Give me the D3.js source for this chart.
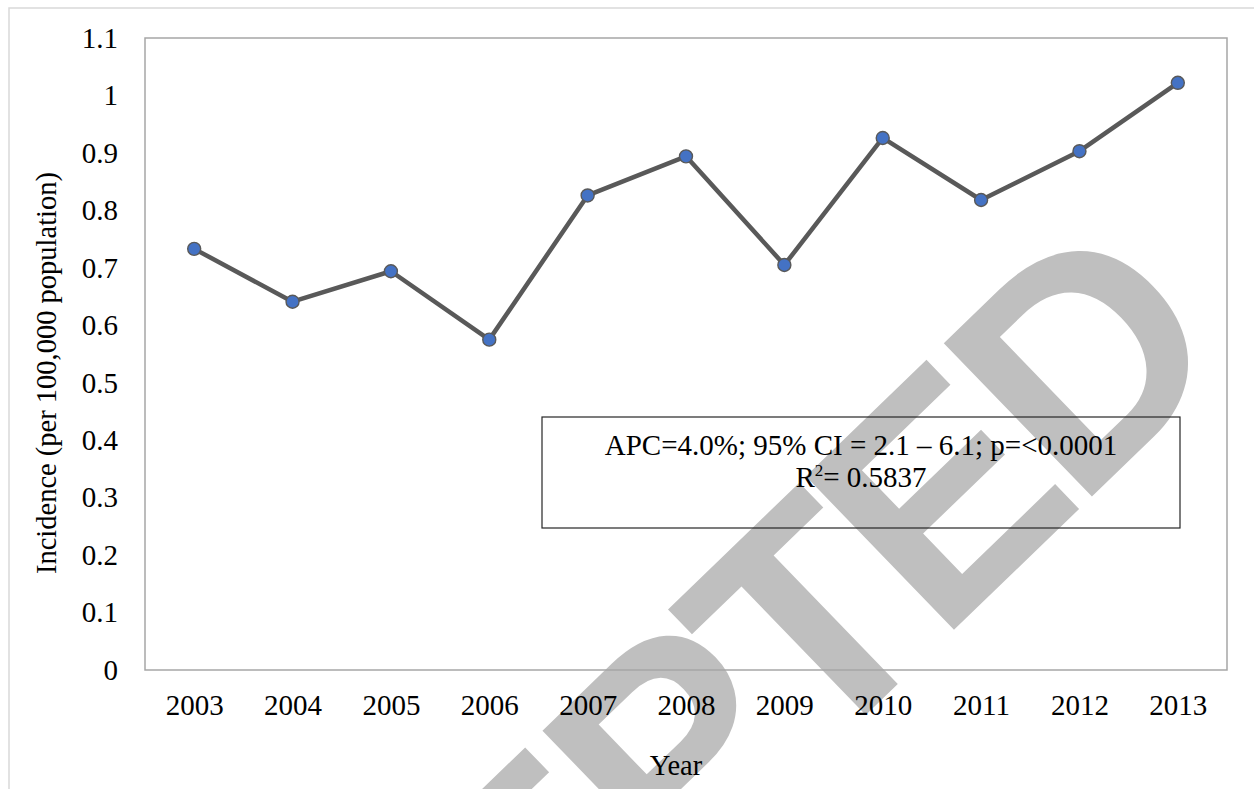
<!DOCTYPE html>
<html>
<head>
<meta charset="utf-8">
<script src="https://cdn.jsdelivr.net/npm/d3@7"></script>
<style>
  body { margin: 0; background: #fff; }
  svg { display: block; }
  text { font-family: "Liberation Serif", "Times New Roman", serif; }
</style>
</head>
<body>
<svg id="chart"></svg>
<script>
// Data
const years = ['2003', '2004', '2005', '2006', '2007', '2008', '2009', '2010', '2011', '2012', '2013'];
const incidence = [0.733, 0.641, 0.694, 0.575, 0.826, 0.894, 0.705, 0.926, 0.818, 0.903, 1.022];
const yTicks = [0, 0.1, 0.2, 0.3, 0.4, 0.5, 0.6, 0.7, 0.8, 0.9, 1, 1.1];
const statsLine1 = 'APC=4.0%; 95% CI = 2.1 \u2013 6.1; p=<0.0001';
const rSquared = '0.5837';

const width = 1254;
const height = 789;
const plot = { left: 145, top: 38, right: 1227, bottom: 670 };

const svg = d3.select('#chart')
  .attr('width', width)
  .attr('height', height);

// Watermark, drawn first so the chart sits over it
svg.append('text')
  .attr('transform', 'translate(87,1467) rotate(-44)')
  .style('font-family', '"Liberation Sans", Arial, sans-serif')
  .style('font-weight', 'bold')
  .style('font-size', '310px')
  .style('letter-spacing', '-15px')
  .attr('fill', '#bfbfbf')
  .text('ACCEPTED');

// Outer chart frame (only top and left edges are inside the picture)
svg.append('rect')
  .attr('x', 9)
  .attr('y', 8)
  .attr('width', 1400)
  .attr('height', 1000)
  .attr('fill', 'none')
  .attr('stroke', '#d9d9d9')
  .attr('stroke-width', 1.5);

const xScale = d3.scalePoint()
  .domain(years)
  .range([plot.left, plot.right])
  .padding(0.5);

const yScale = d3.scaleLinear()
  .domain([0, 1.1])
  .range([plot.bottom, plot.top]);

// Plot area border
svg.append('rect')
  .attr('x', plot.left)
  .attr('y', plot.top)
  .attr('width', plot.right - plot.left)
  .attr('height', plot.bottom - plot.top)
  .attr('fill', 'none')
  .attr('stroke', '#a6a6a6')
  .attr('stroke-width', 1.5);

// Axes
const xAxis = d3.axisBottom(xScale).tickSize(0).tickPadding(24);
svg.append('g')
  .attr('transform', `translate(0, ${plot.bottom})`)
  .call(xAxis)
  .call(g => g.select('.domain').remove())
  .selectAll('text')
  .style('font-family', '"Liberation Serif", serif')
  .style('font-size', '29px')
  .attr('fill', '#000');

const yAxis = d3.axisLeft(yScale)
  .tickValues(yTicks)
  .tickSize(0)
  .tickPadding(27)
  .tickFormat(d => String(+d.toFixed(1)));
svg.append('g')
  .attr('transform', `translate(${plot.left}, 0)`)
  .call(yAxis)
  .call(g => g.select('.domain').remove())
  .selectAll('text')
  .style('font-family', '"Liberation Serif", serif')
  .style('font-size', '29px')
  .attr('fill', '#000');

// Axis titles
svg.append('text')
  .attr('transform', `translate(56, ${(plot.top + plot.bottom) / 2 + 19}) rotate(-90)`)
  .attr('text-anchor', 'middle')
  .style('font-size', '28.5px')
  .text('Incidence (per 100,000 population)');

svg.append('text')
  .attr('x', 676)
  .attr('y', 775)
  .attr('text-anchor', 'middle')
  .style('font-size', '28.5px')
  .text('Year');

// Series line and markers
const line = d3.line()
  .x((d, i) => xScale(years[i]))
  .y(d => yScale(d));

svg.append('path')
  .datum(incidence)
  .attr('d', line)
  .attr('fill', 'none')
  .attr('stroke', '#595959')
  .attr('stroke-width', 4.5)
  .attr('stroke-linejoin', 'round');

svg.selectAll('.dot')
  .data(incidence)
  .enter()
  .append('circle')
  .attr('class', 'dot')
  .attr('cx', (d, i) => xScale(years[i]))
  .attr('cy', d => yScale(d))
  .attr('r', 6.5)
  .attr('fill', '#4472c4')
  .attr('stroke', '#595959')
  .attr('stroke-width', 1.4);

// Stats annotation box
const box = { x: 542, y: 417, w: 638, h: 111 };
svg.append('rect')
  .attr('x', box.x)
  .attr('y', box.y)
  .attr('width', box.w)
  .attr('height', box.h)
  .attr('fill', 'none')
  .attr('stroke', '#262626')
  .attr('stroke-width', 1.2);

svg.append('text')
  .attr('x', box.x + box.w / 2)
  .attr('y', 455)
  .attr('text-anchor', 'middle')
  .style('font-size', '29px')
  .text(statsLine1);

const r2 = svg.append('text')
  .attr('x', box.x + box.w / 2)
  .attr('y', 487)
  .attr('text-anchor', 'middle')
  .style('font-size', '29px');
r2.append('tspan').text('R');
r2.append('tspan').attr('dy', -11).style('font-size', '17px').text('2');
r2.append('tspan').attr('dy', 11).text('= ' + rSquared);
</script>
</body>
</html>
